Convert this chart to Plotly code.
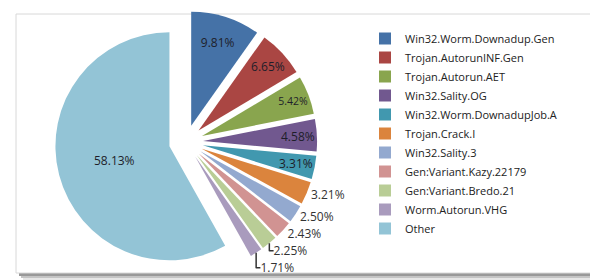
import math
import plotly.graph_objects as go

labels = ["Win32.Worm.Downadup.Gen", "Trojan.AutorunINF.Gen", "Trojan.Autorun.AET",
          "Win32.Sality.OG", "Win32.Worm.DownadupJob.A", "Trojan.Crack.I",
          "Win32.Sality.3", "Gen:Variant.Kazy.22179", "Gen:Variant.Bredo.21",
          "Worm.Autorun.VHG", "Other"]
values = [9.81, 6.65, 5.42, 4.58, 3.31, 3.21, 2.50, 2.43, 2.25, 1.71, 58.13]
colors = ["#4572A7", "#AA4643", "#89A54E", "#71588F", "#4198AF", "#DB843D",
          "#93A9CF", "#D19392", "#B9CD96", "#A99BBD", "#93C4D6"]
text_pos = ["inside", "inside", "inside", "inside", "inside", "outside",
            "outside", "outside", "outside", "outside", "inside"]
# slices whose inside label plotly would shrink: placed as text at the slice instead
manual_label = [False, False, False, True, True, False,
                False, False, False, False, False]

W, H = 598, 280
FONT = "Open Sans"

fig = go.Figure()

# pie geometry
cx, cy, r, pull = 178, 134, 114, 0.15
half = r * (1 + pull)
templates = ["" if m else "%{value:.2f}%" for m in manual_label]
fig.add_trace(go.Pie(
    labels=labels,
    values=values,
    sort=False,
    direction="clockwise",
    rotation=0,
    pull=[pull] * len(values),
    marker=dict(colors=colors, line=dict(width=0)),
    texttemplate=templates,
    textposition=text_pos,
    insidetextorientation="horizontal",
    insidetextfont=dict(family=FONT, size=12, color="#1e1e2a"),
    outsidetextfont=dict(family=FONT, size=12, color="#333333"),
    hoverinfo="label+value",
    domain=dict(x=[(cx - half) / W, (cx + half) / W],
                y=[1 - (cy + half) / H, 1 - (cy - half) / H]),
))

# labels for narrow slices, positioned from the slice's own angle
total = sum(values)
annotations = []
cum = 0.0
for v, m in zip(values, manual_label):
    mid = (cum + v / 2) / total * 2 * math.pi
    cum += v
    if not m:
        continue
    sx = cx + pull * r * math.sin(mid)
    sy = cy - pull * r * math.cos(mid)
    lr = 0.83 * r
    tx = sx + lr * math.sin(mid)
    ty = sy - lr * math.cos(mid)
    annotations.append(dict(x=tx / W, y=1 - ty / H, xref="paper", yref="paper",
                            text=f"{v:.2f}%", showarrow=False,
                            font=dict(family=FONT, size=12, color="#1e1e2a")))

def px(x0, y0, x1, y1):
    return dict(x0=x0 / W, x1=x1 / W, y0=1 - y1 / H, y1=1 - y0 / H)

shapes = []
for (dx, col) in [(7, "#e6e6e6"), (5, "#c4c4c4"), (3, "#999999")]:
    s = dict(type="rect", xref="paper", yref="paper", layer="below",
             fillcolor=col, line=dict(width=0))
    s.update(px(8 + dx, 6 + dx, 583 + dx, 265 + dx))
    shapes.append(s)
s = dict(type="rect", xref="paper", yref="paper", layer="below",
         fillcolor="white", line=dict(width=1, color="#d8d8d8"))
s.update(px(8, 6, 583, 265))
shapes.append(s)

fig.update_layout(
    width=W, height=H,
    margin=dict(l=0, r=0, t=0, b=0, autoexpand=False),
    paper_bgcolor="white",
    plot_bgcolor="white",
    font=dict(family=FONT, size=12, color="#222222"),
    shapes=shapes,
    annotations=annotations,
    showlegend=True,
    legend=dict(x=357 / W, xanchor="left", y=1 - 16 / H, yanchor="top",
                font=dict(family=FONT, size=11, color="#222222"),
                bgcolor="rgba(0,0,0,0)"),
)

fig.write_html("out.html")
